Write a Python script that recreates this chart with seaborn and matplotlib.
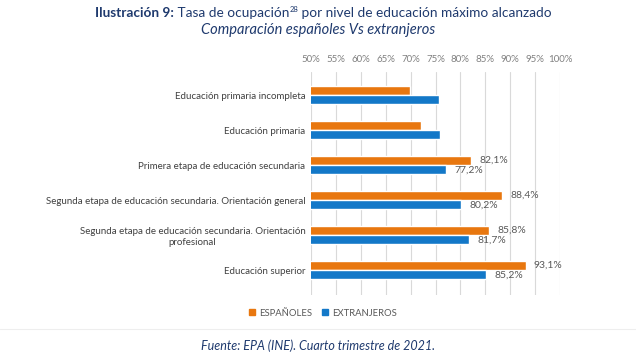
import pandas as pd
import matplotlib.pyplot as plt
import seaborn as sns
from matplotlib.lines import Line2D

categorias = ["Educación primaria incompleta",
              "Educación primaria",
              "Primera etapa de educación secundaria",
              "Segunda etapa de educación secundaria. Orientación general",
              "Segunda etapa de educación secundaria. Orientación\nprofesional",
              "Educación superior"]
espanoles = [69.9, 72.0, 82.1, 88.4, 85.8, 93.1]
extranjeros = [75.7, 76.0, 77.2, 80.2, 81.7, 85.2]
con_etiqueta = [False, False, True, True, True, True]
ticks = [50, 55, 60, 65, 70, 75, 80, 85, 90, 95, 100]

df = pd.DataFrame({
    "categoria": categorias * 2,
    "valor": espanoles + extranjeros,
    "grupo": ["ESPAÑOLES"] * 6 + ["EXTRANJEROS"] * 6,
})

naranja = "#E8770F"
azul = "#1378C8"

sns.set_style("white")
plt.rcParams["font.family"] = ["Lato", "DejaVu Sans"]

fig = plt.figure(figsize=(6.36, 3.58), dpi=100)
ax = fig.add_axes([311/636, 1-295/358, (560-311)/636, (295-72)/358])

sns.barplot(data=df, y="categoria", x="valor", hue="grupo", orient="h",
            palette=[naranja, azul], width=0.53, saturation=1, ax=ax,
            legend=False)

ax.set_xlim(50, 100)
ax.set_ylim(5.71, -0.66)
ax.set_xticks(ticks)
ax.set_xticklabels([f"{t}%" for t in ticks], fontsize=7, color="#808080")
ax.xaxis.tick_top()
ax.tick_params(axis="x", length=0, pad=6)
ax.tick_params(axis="y", length=0, pad=4)
for lab in ax.get_yticklabels():
    lab.set_fontsize(7)
    lab.set_color("#404040")
    lab.set_multialignment("center")
ax.set_xlabel("")
ax.set_ylabel("")
ax.grid(axis="x", color="#d9d9d9", linewidth=0.8)
ax.set_axisbelow(True)
for s in ax.spines.values():
    s.set_visible(False)

# etiquetas de datos
for cont, vals in zip(ax.containers, [espanoles, extranjeros]):
    for bar, v, show in zip(cont, vals, con_etiqueta):
        if show:
            ax.annotate(f"{v:.1f}%".replace(".", ","),
                        (bar.get_width(), bar.get_y() + bar.get_height() / 2),
                        xytext=(6, 0), textcoords="offset points",
                        va="center", ha="left", fontsize=7.5, color="#595959")

# leyenda
handles = [Line2D([], [], marker="s", linestyle="", color=naranja, markersize=4),
           Line2D([], [], marker="s", linestyle="", color=azul, markersize=4)]
fig.legend(handles, ["ESPAÑOLES", "EXTRANJEROS"], loc="center",
           bbox_to_anchor=(322/636, 1-313/358), ncol=2, frameon=False,
           fontsize=6.8, labelcolor="#595959", handletextpad=0.2,
           columnspacing=0.9, handlelength=1)

# títulos
titulo_color = "#1F3A6E"
y_t = 1 - 13/358
fig.canvas.draw()
x = 95
partes = [("Ilustración 9:", 9.8, "bold", 0), (" Tasa de ocupación", 9.8, "normal", 0),
          ("28", 5.5, "normal", 4), (" por nivel de educación máximo alcanzado", 9.8, "normal", 0)]
for txt, fs, fw, dy in partes:
    t = fig.text(x/636, y_t + dy/358, txt, fontsize=fs, fontweight=fw,
                 color=titulo_color, va="center", ha="left")
    x = t.get_window_extent(fig.canvas.get_renderer()).x1
fig.text(318/636, 1-30/358, "Comparación españoles Vs extranjeros",
         fontsize=10.5, style="italic", color=titulo_color, ha="center",
         va="center")

fig.add_artist(Line2D([0, 1], [1-329/358, 1-329/358], color="#eeeeee",
                      linewidth=0.8, transform=fig.transFigure))

fig.text(318/636, 1-346/358, "Fuente: EPA (INE). Cuarto trimestre de 2021.",
         fontsize=9, style="italic", color="#1F3A6E", ha="center", va="center")

plt.savefig("out.png", dpi=100)
